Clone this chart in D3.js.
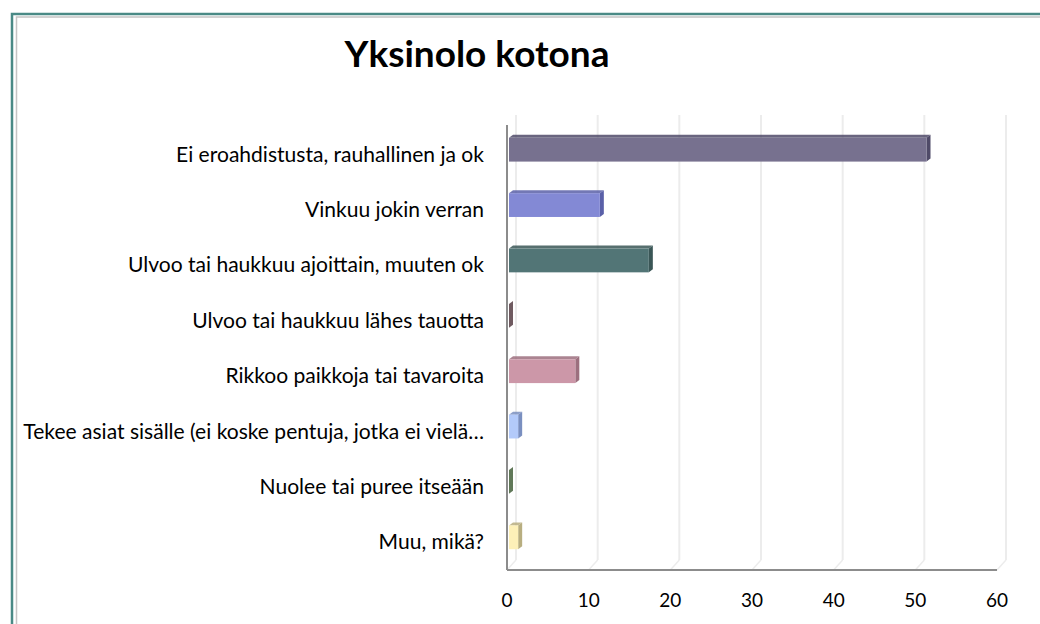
<!DOCTYPE html>
<html>
<head>
<meta charset="utf-8">
<script src="https://cdn.jsdelivr.net/npm/d3@7"></script>
<style>
  body { margin: 0; background: #fff; }
</style>
</head>
<body>
<div id="chart"></div>
<script>
// chart data
var categories = [
    "Ei eroahdistusta, rauhallinen ja ok",
    "Vinkuu jokin verran",
    "Ulvoo tai haukkuu ajoittain, muuten ok",
    "Ulvoo tai haukkuu lähes tauotta",
    "Rikkoo paikkoja tai tavaroita",
    "Tekee asiat sisälle (ei koske pentuja, jotka ei vielä…",
    "Nuolee tai puree itseään",
    "Muu, mikä?"
];
var values = [51, 11, 17, 0, 8, 1, 0, 1];
var tickValues = [0, 10, 20, 30, 40, 50, 60];
var titleText = "Yksinolo kotona";

// front / side colours for each bar
var frontColors = ["#77718f", "#8389d5", "#527576", "#9a7d85", "#cc97a8", "#b3cafa", "#88a282", "#fdf0b8"];
var sideColors  = ["#4f4a68", "#5a60a8", "#3a5656", "#6f5a60", "#9c6f7e", "#7a8fc0", "#607858", "#b8ae80"];

var attrs = {
    svgWidth: 1040,
    svgHeight: 624,
    font: "Lato, 'Open Sans', sans-serif",
    axisColor: '#8c8c8c',
    gridColor: '#ececec',
    depthX: 9,
    depthY: 10,
    barDx: 4,
    barDy: 3,
    barShift: 3,       // bars sit a bit into the depth
    labelWidth: 308,   // width of the longest label in the reference
    titleWidth: 265
};

var svg = d3.select('#chart').append('svg')
    .attr('width', attrs.svgWidth)
    .attr('height', attrs.svgHeight)
    .attr('font-family', attrs.font);

// helper: pick a font size so a text spans the wanted width
function fitSize(txt, weight, wanted) {
    var t = svg.append('text').attr('font-size', 20).attr('font-weight', weight).text(txt);
    var w = t.node().getComputedTextLength();
    t.remove();
    return 20 * wanted / w;
}

// frame
svg.append('rect')
    .attr('x', 12).attr('y', 14)
    .attr('width', 1060).attr('height', 640)
    .attr('fill', 'none')
    .attr('stroke', '#4a8a86')
    .attr('stroke-width', 2.5);
svg.append('rect')
    .attr('x', 16.5).attr('y', 17)
    .attr('width', 1060).attr('height', 640)
    .attr('fill', 'none')
    .attr('stroke', '#c4c4c4')
    .attr('stroke-width', 1.5);

// title
svg.append('text')
    .attr('x', 477).attr('y', 67)
    .attr('text-anchor', 'middle')
    .attr('font-size', fitSize(titleText, 'bold', attrs.titleWidth))
    .attr('font-weight', 'bold')
    .attr('fill', '#000')
    .text(titleText);

// scales
var x = d3.scaleLinear().domain([0, 60]).range([507, 997]);
var y = d3.scaleBand().domain(categories)
    .range([122, 565])
    .paddingInner(0.57)
    .paddingOuter(0.285);

var axisTop = 125, axisBottom = 570;

// back wall gridlines
var grid = svg.append('g').attr('class', 'grid');
grid.selectAll('line.back')
    .data(tickValues)
    .enter().append('line')
    .attr('class', 'back')
    .attr('x1', d => x(d) + attrs.depthX).attr('x2', d => x(d) + attrs.depthX)
    .attr('y1', axisTop - attrs.depthY).attr('y2', axisBottom - attrs.depthY)
    .attr('stroke', attrs.gridColor)
    .attr('stroke-width', 2);
// floor diagonals
grid.selectAll('line.floor')
    .data(tickValues)
    .enter().append('line')
    .attr('class', 'floor')
    .attr('x1', d => x(d)).attr('x2', d => x(d) + attrs.depthX)
    .attr('y1', axisBottom).attr('y2', axisBottom - attrs.depthY)
    .attr('stroke', attrs.gridColor)
    .attr('stroke-width', 1.5);

// axes lines
svg.append('line')
    .attr('x1', x(0)).attr('x2', x(0))
    .attr('y1', axisTop).attr('y2', axisBottom)
    .attr('stroke', attrs.axisColor).attr('stroke-width', 2);
svg.append('line')
    .attr('x1', x(0)).attr('x2', x(60))
    .attr('y1', axisBottom).attr('y2', axisBottom)
    .attr('stroke', attrs.axisColor).attr('stroke-width', 2);

// x tick labels
svg.append('g').selectAll('text')
    .data(tickValues)
    .enter().append('text')
    .attr('x', d => x(d))
    .attr('y', 607)
    .attr('text-anchor', 'middle')
    .attr('font-size', 19)
    .attr('fill', '#000')
    .text(d => d);

// category labels
var labelSize = fitSize(categories[0], 'normal', attrs.labelWidth);
svg.append('g').selectAll('text')
    .data(categories)
    .enter().append('text')
    .attr('x', 484)
    .attr('y', d => y(d) + y.bandwidth() / 2 + 12)
    .attr('text-anchor', 'end')
    .attr('font-size', labelSize)
    .attr('fill', '#000')
    .text(d => d);

// bars (pseudo 3D)
var bars = svg.append('g').selectAll('g.bar')
    .data(categories.map((c, i) => ({ cat: c, value: values[i], i: i })))
    .enter().append('g').attr('class', 'bar');

var dx = attrs.barDx, dy = attrs.barDy, x0 = x(0) + 2;
function barEnd(d) {
    return d.value > 0 ? x(d.value) + attrs.barShift : x0;
}

bars.append('polygon') // side face
    .attr('points', d => {
        var xe = barEnd(d), yt = y(d.cat), yb = yt + y.bandwidth();
        return [[xe, yt], [xe + dx, yt - dy], [xe + dx, yb - dy], [xe, yb]].join(' ');
    })
    .attr('fill', d => sideColors[d.i]);

bars.append('polygon') // top face
    .attr('points', d => {
        var xe = barEnd(d), yt = y(d.cat);
        return [[x0, yt], [x0 + dx, yt - dy], [xe + dx, yt - dy], [xe, yt]].join(' ');
    })
    .attr('fill', d => sideColors[d.i])
    .attr('opacity', 0.85);

bars.append('rect') // front face
    .attr('x', x0)
    .attr('y', d => y(d.cat))
    .attr('width', d => Math.max(0, barEnd(d) - x0))
    .attr('height', y.bandwidth())
    .attr('fill', d => frontColors[d.i]);
</script>
</body>
</html>
